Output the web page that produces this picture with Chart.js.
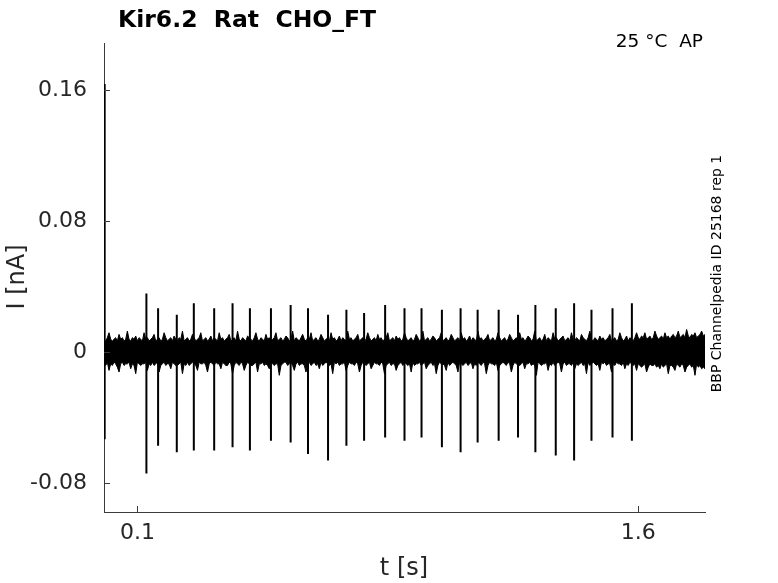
<!DOCTYPE html>
<html>
<head>
<meta charset="utf-8">
<script src="https://cdn.jsdelivr.net/npm/chart.js@4.4.1/dist/chart.umd.min.js"></script>
<style>
  html, body { margin: 0; padding: 0; background: #fff; }
  canvas { display: block; }
</style>
</head>
<body>
<canvas id="chart" width="778" height="583"></canvas>
<script>
// tick positions and labels
const xTicks = [0.1, 1.6];
const xTickLabels = ["0.1", "1.6"];
const yTicks = [-0.08, 0, 0.08, 0.16];
const yTickLabels = ["-0.08", "0", "0.08", "0.16"];

// spike times (s) with their upper and lower peaks (nA)
const spikeTimes = [0.002, 0.127, 0.162, 0.218, 0.269, 0.330, 0.385, 0.437, 0.500, 0.559,
  0.611, 0.671, 0.726, 0.779, 0.842, 0.900, 0.951, 1.012, 1.068, 1.119,
  1.182, 1.240, 1.292, 1.353, 1.408, 1.460, 1.523, 1.581];
const spikeTops = [0.164, 0.036, 0.027, 0.023, 0.030, 0.027, 0.030, 0.027, 0.027, 0.029,
  0.027, 0.023, 0.026, 0.024, 0.029, 0.027, 0.027, 0.026, 0.027, 0.026,
  0.026, 0.023, 0.029, 0.027, 0.030, 0.026, 0.027, 0.030];
const spikeBottoms = [-0.053, -0.074, -0.057, -0.061, -0.060, -0.060, -0.058, -0.060, -0.054, -0.055,
  -0.062, -0.066, -0.057, -0.054, -0.052, -0.054, -0.052, -0.058, -0.061, -0.055,
  -0.054, -0.052, -0.061, -0.063, -0.066, -0.054, -0.052, -0.054];

// noise band edges, sampled every 5 ms from 0 to 1.8 s (pA)
const noiseStep = 0.005;
const noiseUpperPA = [
  8,7,9,12,8,7,8,9,7,11,8,9,7,8,13,8,7,9,8,10,
  7,9,8,7,12,8,9,7,8,9,11,7,8,9,7,8,12,9,7,8,
  9,7,10,8,7,9,8,13,7,8,9,7,8,11,9,7,8,9,12,7,
  8,9,7,8,10,7,9,8,7,12,8,9,7,8,9,11,7,8,9,7,
  13,8,7,9,8,7,10,9,8,7,9,12,8,7,9,8,7,11,8,9,
  7,8,9,12,7,8,9,7,8,10,9,7,8,13,7,9,8,7,9,11,
  8,7,9,8,12,7,8,9,7,8,11,9,7,8,9,7,12,8,9,7,
  8,10,7,9,8,7,13,8,9,7,8,9,11,7,8,9,7,8,12,9,
  7,8,9,7,11,8,9,7,8,9,12,7,8,9,7,10,8,9,7,8,
  12,9,7,8,9,7,8,11,9,7,8,13,7,8,9,7,8,10,9,7,
  8,9,12,7,8,9,7,8,11,9,7,8,9,7,12,8,9,7,8,10,
  7,9,8,7,13,8,9,7,8,9,11,7,8,9,7,8,12,9,7,8,
  9,7,8,11,9,7,8,9,7,12,8,9,7,8,10,9,7,8,13,7,
  8,9,7,8,11,7,9,8,7,12,8,9,7,8,9,10,7,8,9,7,
  12,8,7,9,8,7,11,9,8,7,9,13,8,7,9,8,7,10,8,9,
  7,8,9,11,7,8,9,7,8,12,9,7,8,10,7,9,8,7,9,12,
  9,8,10,9,12,8,9,10,8,9,13,10,8,9,10,8,12,9,10,8,
  10,11,9,10,13,9,10,11,9,14,10,9,11,10,12,9,10,11,13,10,
  11];
const noiseLowerPA = [
  -7,-8,-6,-11,-7,-8,-6,-7,-9,-12,-7,-6,-8,-7,-7,-6,-10,-7,-8,-13,
  -6,-7,-8,-7,-7,-6,-11,-7,-8,-6,-8,-7,-6,-12,-8,-7,-6,-8,-7,-7,
  -10,-6,-7,-8,-8,-7,-6,-13,-7,-8,-6,-8,-7,-6,-7,-8,-11,-6,-7,-7,
  -6,-8,-12,-7,-6,-7,-8,-6,-7,-7,-10,-6,-7,-8,-8,-6,-7,-13,-8,-6,
  -7,-8,-6,-7,-11,-8,-6,-7,-8,-8,-7,-6,-12,-7,-7,-6,-8,-7,-8,-10,
  -6,-7,-8,-7,-7,-14,-8,-7,-6,-6,-8,-7,-6,-8,-11,-7,-6,-8,-7,-7,
  -8,-12,-7,-6,-8,-7,-6,-8,-7,-10,-6,-8,-7,-6,-7,-8,-7,-13,-6,-7,
  -6,-8,-7,-7,-6,-11,-8,-6,-7,-7,-8,-6,-7,-12,-8,-6,-7,-8,-7,-6,
  -10,-8,-6,-7,-7,-8,-6,-7,-13,-8,-7,-6,-8,-7,-7,-11,-8,-7,-6,-8,
  -6,-7,-8,-7,-12,-6,-8,-7,-7,-6,-8,-7,-6,-10,-8,-7,-6,-8,-7,-13,
  -8,-6,-7,-7,-8,-11,-6,-8,-7,-6,-7,-8,-12,-6,-7,-8,-7,-6,-8,-7,
  -6,-10,-7,-8,-6,-7,-8,-6,-7,-13,-8,-6,-7,-7,-8,-6,-11,-8,-7,-6,
  -7,-8,-6,-7,-12,-8,-6,-7,-8,-8,-7,-6,-10,-7,-7,-6,-8,-7,-8,-14,
  -6,-7,-8,-7,-7,-6,-11,-7,-8,-6,-8,-7,-6,-7,-12,-7,-6,-8,-7,-7,
  -8,-6,-10,-7,-8,-7,-6,-8,-7,-13,-6,-8,-7,-6,-7,-8,-7,-11,-6,-7,
  -6,-8,-7,-7,-12,-7,-8,-6,-7,-7,-8,-6,-10,-7,-8,-6,-7,-8,-7,-11,
  -7,-8,-9,-8,-7,-12,-9,-7,-8,-8,-7,-9,-8,-10,-7,-9,-8,-7,-13,-8,
  -8,-9,-11,-7,-8,-9,-7,-8,-12,-9,-8,-7,-9,-8,-14,-7,-9,-8,-10,-9,
  -10];

const FONT = "'DejaVu Sans', sans-serif";
const AXIS_COLOR = "#3a3a3a";

const upperPts = noiseUpperPA.map((v, i) => ({ x: i * noiseStep, y: v / 1000 }));
const lowerPts = noiseLowerPA.map((v, i) => ({ x: i * noiseStep, y: v / 1000 }));
const spikePts = [];
spikeTimes.forEach((t, i) => {
  spikePts.push({ x: t, y: spikeTops[i] });
  spikePts.push({ x: t, y: spikeBottoms[i] });
  spikePts.push({ x: t, y: null });
});

// inward tick marks + the free text around the axes
const decorations = {
  id: "decorations",
  afterDraw(chart) {
    const { ctx, chartArea, scales } = chart;
    ctx.save();
    ctx.strokeStyle = AXIS_COLOR;
    ctx.lineWidth = 1;
    yTicks.forEach((v) => {
      const y = Math.round(scales.y.getPixelForValue(v)) + 0.5;
      ctx.beginPath();
      ctx.moveTo(chartArea.left, y);
      ctx.lineTo(chartArea.left + 6, y);
      ctx.stroke();
    });
    xTicks.forEach((v) => {
      const x = Math.round(scales.x.getPixelForValue(v)) + 0.5;
      ctx.beginPath();
      ctx.moveTo(x, chartArea.bottom);
      ctx.lineTo(x, chartArea.bottom - 6);
      ctx.stroke();
    });

    ctx.fillStyle = "#000";
    ctx.textBaseline = "alphabetic";
    ctx.font = "bold 23.5px " + FONT;
    ctx.textAlign = "left";
    ctx.fillText("Kir6.2  Rat  CHO_FT", 118, 27);

    ctx.font = "18.5px " + FONT;
    ctx.textAlign = "right";
    ctx.fillText("25 °C  AP", 703, 47);

    ctx.fillStyle = "#262626";
    ctx.font = "24px " + FONT;
    ctx.textAlign = "center";
    ctx.fillText("t [s]", 404, 575);

    ctx.save();
    ctx.translate(24, 277);
    ctx.rotate(-Math.PI / 2);
    ctx.fillText("I [nA]", 0, 0);
    ctx.restore();

    ctx.fillStyle = "#000";
    ctx.save();
    ctx.translate(721, 273.5);
    ctx.rotate(-Math.PI / 2);
    ctx.font = "14px " + FONT;
    ctx.fillText("BBP Channelpedia ID 25168 rep 1", 0, 0);
    ctx.restore();
    ctx.restore();
  }
};

new Chart(document.getElementById("chart"), {
  type: "line",
  data: {
    datasets: [
      {
        data: lowerPts,
        borderColor: "#000",
        borderWidth: 1,
        pointRadius: 0,
        fill: false,
        tension: 0
      },
      {
        data: upperPts,
        borderColor: "#000",
        backgroundColor: "#000",
        borderWidth: 1,
        pointRadius: 0,
        fill: "-1",
        tension: 0
      },
      {
        data: spikePts,
        borderColor: "#000",
        borderWidth: 2,
        pointRadius: 0,
        fill: false,
        spanGaps: false,
        tension: 0
      }
    ]
  },
  options: {
    responsive: false,
    animation: false,
    devicePixelRatio: 1,
    layout: { padding: { left: 0, right: 73, top: 43, bottom: 0 } },
    plugins: {
      legend: { display: false },
      tooltip: { enabled: false }
    },
    scales: {
      x: {
        type: "linear",
        min: 0,
        max: 1.8,
        afterBuildTicks: (s) => { s.ticks = xTicks.map((v) => ({ value: v })); },
        afterFit: (s) => { s.height = 71; },
        ticks: {
          callback: (v) => xTickLabels[xTicks.indexOf(v)],
          font: { family: FONT, size: 22 },
          color: "#262626",
          padding: 8,
          maxRotation: 0,
          autoSkip: false
        },
        grid: { drawOnChartArea: false, drawTicks: false },
        border: { color: AXIS_COLOR, width: 1 }
      },
      y: {
        type: "linear",
        min: -0.0975,
        max: 0.189,
        afterBuildTicks: (s) => { s.ticks = yTicks.map((v) => ({ value: v })); },
        afterFit: (s) => { s.width = 104; },
        ticks: {
          callback: (v) => yTickLabels[yTicks.indexOf(v)],
          font: { family: FONT, size: 22 },
          color: "#262626",
          padding: 17,
          autoSkip: false
        },
        grid: { drawOnChartArea: false, drawTicks: false },
        border: { color: AXIS_COLOR, width: 1 }
      }
    }
  },
  plugins: [decorations]
});
</script>
</body>
</html>
